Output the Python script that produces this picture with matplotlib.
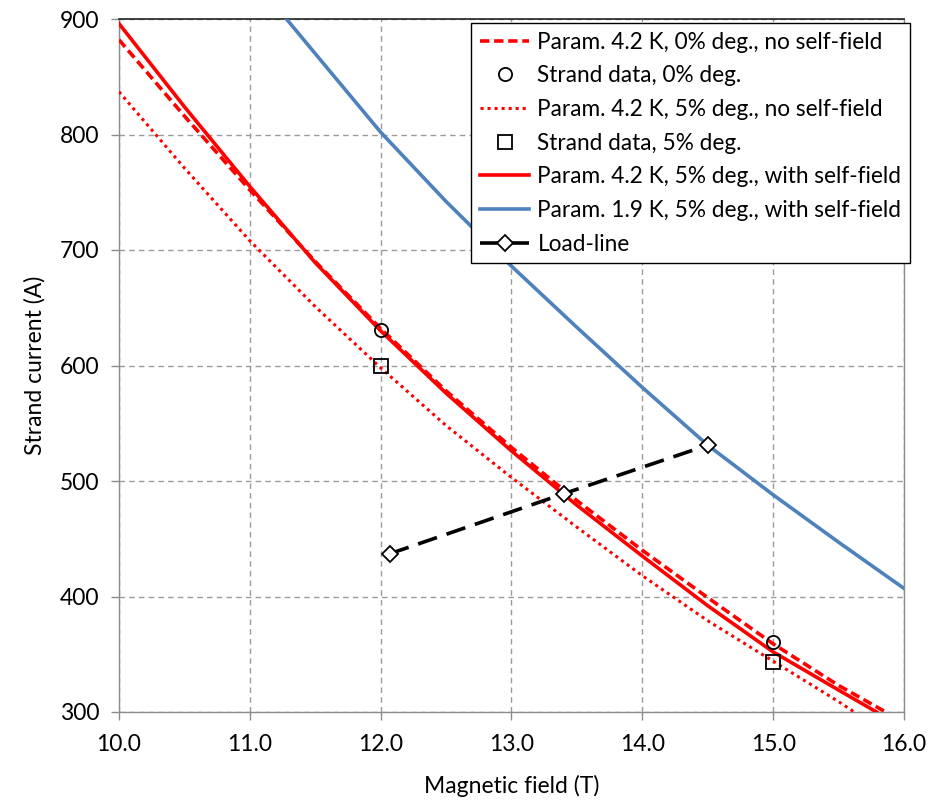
import matplotlib
matplotlib.use("Agg")
import matplotlib.pyplot as plt
import numpy as np

plt.rcParams['font.family'] = ['Lato', 'DejaVu Sans']

# Param. 4.2 K, 0% deg., no self-field (dashed red)
x_dash = [10.0, 10.5, 11.0, 11.5, 12.0, 12.5, 13.0, 13.5, 14.0, 14.5, 15.0, 15.5, 15.86]
y_dash = [882, 816, 752, 690, 632, 578, 529, 483, 440, 399, 359, 323, 300]

# Strand data, 0% deg.
x_circ = [12.0, 15.0]
y_circ = [631, 361]

# Param. 4.2 K, 5% deg., no self-field (dotted red)
x_dot = [10.0, 10.5, 11.0, 11.5, 12.0, 12.5, 13.0, 13.5, 14.0, 14.5, 15.0, 15.5, 15.62]
y_dot = [837, 771, 708, 651, 598, 548, 503, 460, 418, 379, 344, 309, 300]

# Strand data, 5% deg.
x_sq = [12.0, 15.0]
y_sq = [600, 343]

# Param. 4.2 K, 5% deg., with self-field (solid red)
x_sol = [10.0, 10.5, 11.0, 11.5, 12.0, 12.5, 13.0, 13.5, 14.0, 14.5, 15.0, 15.5, 15.79]
y_sol = [896, 824, 755, 689, 630, 576, 526, 479, 435, 392, 352, 319, 300]

# Param. 1.9 K, 5% deg., with self-field (blue)
x_blue = [11.28, 11.5, 12.0, 12.5, 13.0, 13.5, 14.0, 14.5, 15.0, 15.5, 16.0]
y_blue = [900, 870, 802, 742, 686, 633, 581, 531, 488, 447, 407]

# Load-line
x_load = [12.07, 13.4, 14.5]
y_load = [437, 489, 531]

labels = ["Param. 4.2 K, 0% deg., no self-field",
          "Strand data, 0% deg.",
          "Param. 4.2 K, 5% deg., no self-field",
          "Strand data, 5% deg.",
          "Param. 4.2 K, 5% deg., with self-field",
          "Param. 1.9 K, 5% deg., with self-field",
          "Load-line"]

xticks = [10, 11, 12, 13, 14, 15, 16]
yticks = [300, 400, 500, 600, 700, 800, 900]

fig = plt.figure(figsize=(9.33, 8.0), dpi=100)
ax = fig.add_axes([119/933, 1-712/800, (904-119)/933, (712-19)/800])

red = '#FF0000'
blue = '#4F81BD'

ax.plot(x_dash, y_dash, color=red, lw=2.6, ls=(0, (2.6, 1.3)), label=labels[0], zorder=3)
ax.plot(x_circ, y_circ, ls='none', marker='o', ms=9.5, mfc='none', mec='black', mew=1.3,
        label=labels[1], zorder=5)
ax.plot(x_dot, y_dot, color=red, lw=2.2, ls=(0, (1, 1.3)), label=labels[2], zorder=3)
ax.plot(x_sq, y_sq, ls='none', marker='s', ms=9.5, mfc='none', mec='black', mew=1.3,
        label=labels[3], zorder=5)
ax.plot(x_sol, y_sol, color=red, lw=2.6, ls='-', label=labels[4], zorder=3)
ax.plot(x_blue, y_blue, color=blue, lw=2.6, ls='-', label=labels[5], zorder=3)
ax.plot(x_load, y_load, color='black', lw=2.6, ls=(0, (5.5, 2.8)), marker='D', ms=8.5,
        mfc='white', mec='black', mew=1.3, label=labels[6], zorder=4)

ax.set_xlim(10, 16)
ax.set_ylim(300, 900)
ax.set_xticks(xticks)
ax.set_xticklabels([f"{v:.1f}" for v in xticks])
ax.set_yticks(yticks)
ax.set_yticklabels([str(v) for v in yticks])

ax.grid(True, color='#9a9a9a', ls=(0, (4, 3)), lw=1.0, zorder=0)
ax.set_axisbelow(True)

for s in ['left', 'bottom', 'right']:
    ax.spines[s].set_color('#8c8c8c')
    ax.spines[s].set_linewidth(1.0)
ax.spines['top'].set_color('#222222')
ax.spines['top'].set_linewidth(1.2)

ax.tick_params(axis='both', which='major', labelsize=16.5, color='#8c8c8c', length=6,
               width=1.0, direction='out', labelcolor='#000000')
ax.tick_params(axis='y', pad=8)
ax.tick_params(axis='x', pad=10)

ax.set_xlabel("Magnetic field (T)", fontsize=16.5, labelpad=14)
ax.set_ylabel("Strand current (A)", fontsize=16.5, labelpad=10)

leg = ax.legend(loc='upper right', bbox_to_anchor=((910-119)/785, (712-23)/693),
                borderaxespad=0, fontsize=16.3, frameon=True, fancybox=False,
                handlelength=2.2, handletextpad=0.35, labelspacing=0.56,
                borderpad=0.38)
leg.get_frame().set_edgecolor('black')
leg.get_frame().set_linewidth(1.0)
leg.get_frame().set_alpha(1.0)

fig.savefig("out.png", dpi=100)
